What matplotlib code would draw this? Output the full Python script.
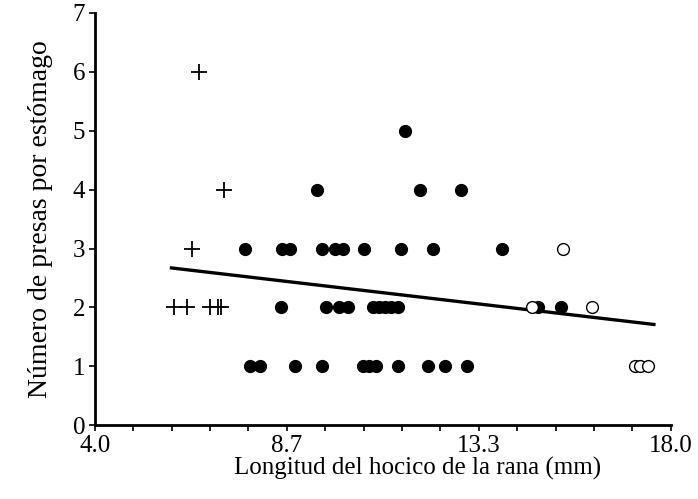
import matplotlib.pyplot as plt
import numpy as np

plt.rcParams["font.family"] = ["Liberation Serif", "DejaVu Serif"]

# juveniles (+)
juv_x = [6.54, 7.13, 6.35, 5.92, 6.24, 6.80, 6.99, 7.07]
juv_y = [6, 4, 3, 2, 2, 2, 2, 2]

# adultos (filled circles)
adult_x = [11.53,
           9.40, 11.90, 12.90,
           7.66, 8.55, 8.74, 9.51, 9.83, 10.02, 10.54, 11.45, 12.22, 13.89,
           8.53, 9.61, 9.94, 10.15, 10.76, 10.90, 11.05, 11.19, 11.36,
           14.78, 15.34,
           7.77, 8.01, 8.86, 9.51, 10.51, 10.66, 10.83, 11.37, 12.10, 12.51,
           13.04]
adult_y = [5,
           4, 4, 4,
           3, 3, 3, 3, 3, 3, 3, 3, 3, 3,
           2, 2, 2, 2, 2, 2, 2, 2, 2,
           2, 2,
           1, 1, 1, 1, 1, 1, 1, 1, 1, 1,
           1]

# hembras grandes (open circles)
open_x = [15.37, 14.62, 16.08, 17.13, 17.25, 17.45]
open_y = [3, 2, 2, 1, 1, 1]

# regression line end points
line_x = [5.86, 17.59]
line_y = [2.67, 1.71]

xticks = np.linspace(4.0, 18.0, 16)
xlabels = ["4.0", "", "", "", "", "8.7", "", "", "", "",
           "13.3", "", "", "", "", "18.0"]

fig = plt.figure(figsize=(6.98, 4.99), dpi=100)
ax = fig.add_axes([0.136, 0.148, 0.825, 0.826])

ax.plot(line_x, line_y, color="black", lw=2.4, zorder=2)
ax.plot(juv_x, juv_y, "+", color="black", ms=11, mew=1.3, zorder=3)
ax.plot(adult_x, adult_y, "o", color="black", ms=8.5, zorder=3)
ax.plot(open_x, open_y, "o", mfc="white", mec="black", ms=8.5, mew=1.0,
        zorder=3)

ax.set_xlim(4.0, 18.0)
ax.set_ylim(0, 7)
ax.set_xticks(xticks)
ax.set_xticklabels(xlabels)
ax.set_yticks(range(8))

for side in ["top", "right"]:
    ax.spines[side].set_visible(False)
for side in ["left", "bottom"]:
    ax.spines[side].set_linewidth(2)

ax.tick_params(axis="both", direction="out", length=4, width=1.2,
               labelsize=18, pad=3)

ax.set_xlabel("Longitud del hocico de la rana (mm)", fontsize=18)
ax.xaxis.set_label_coords(0.56, -0.078, transform=ax.transAxes)
ax.set_ylabel("Número de presas por estómago", fontsize=20, labelpad=14)

fig.savefig("out.png", dpi=100)
